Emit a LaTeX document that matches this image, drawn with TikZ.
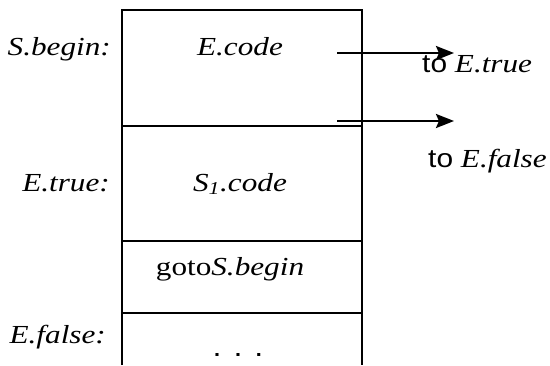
\documentclass[tikz,border=0pt]{standalone}
\usepackage{fontspec}
\setmainfont{Liberation Serif}[FakeStretch=1.2]
\newfontfamily\arialfont{Liberation Sans}[FakeStretch=1.15]
\usetikzlibrary{arrows.meta}

\begin{document}
\begin{tikzpicture}[x=1pt,y=-1pt,
  frame/.style={line width=2.2pt},
  lbl/.style={font=\fontsize{26}{30}\selectfont\itshape,inner sep=0pt},
  jump/.style={line width=2.6pt,-{Stealth[length=18pt,width=14pt,inset=3pt]}}]
\useasboundingbox (0,0) rectangle (550,365);
% the stack of code blocks
\draw[frame] (122,365) -- (122,10) -- (362,10) -- (362,365);
\foreach \y in {126,241,313}{
\draw[frame] (122,\y) -- (362,\y);
}
% block contents
\node[lbl,anchor=base] (ecode) at (240,55) {E.code};
\node[lbl,anchor=base] (sonecode) at (240,191) {S\textsubscript{1}.code};
\node[lbl,anchor=base] (gotos) at (230,275) {\upshape goto\itshape S.begin};
\node[anchor=base,inner sep=0pt,font=\arialfont\fontsize{28}{32}\selectfont] (dots) at (238,356) {. . .};
% labels on the left
\node[lbl,anchor=base east] (sbegin) at (111,55) {S.begin:};
\node[lbl,anchor=base east] (etrue) at (110,191) {E.true:};
\node[lbl,anchor=base east] (efalse) at (106,343) {E.false:};
% jumps out of E.code
\coordinate (tfrom) at (337,53);
\coordinate (tto) at (454,53);
\coordinate (ffrom) at (337,121);
\coordinate (fto) at (454,121);
\draw[jump] (tfrom) -- (tto);
\draw[jump] (ffrom) -- (fto);
\node[lbl,anchor=base west] (totrue) at (422,72) {{\arialfont\upshape to} E.true};
\node[lbl,anchor=base west] (tofalse) at (428,167) {{\arialfont\upshape to} E.false};
\end{tikzpicture}
\end{document}
